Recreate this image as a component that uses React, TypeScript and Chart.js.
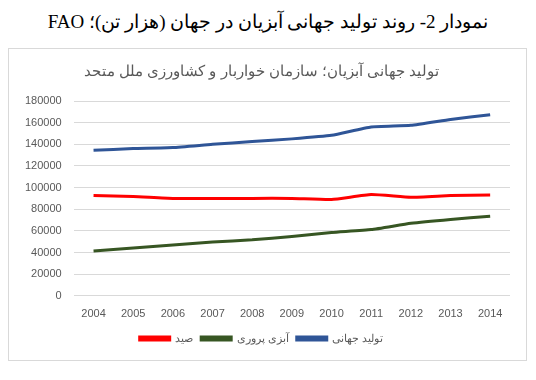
import React, { useEffect, useRef } from "react";
import { Chart, registerables } from "chart.js";

Chart.register(...registerables);

const years = ["2004", "2005", "2006", "2007", "2008", "2009", "2010", "2011", "2012", "2013", "2014"];
const catchValues = [92600, 91700, 90000, 90000, 90000, 90000, 89000, 93500, 91000, 92600, 93200];
const aquacultureValues = [41500, 44200, 47000, 49800, 51700, 54800, 58500, 61200, 67000, 70600, 73500];
const worldValues = [134500, 136000, 137000, 140000, 142500, 145000, 148300, 156000, 157500, 163000, 167400];
const seriesNames = ["صید", "آبزی پروری", "تولید جهانی"];
const seriesColors = ["#ff0000", "#375623", "#2f5597"];
const heading = "نمودار 2- روند تولید جهانی آبزیان در جهان (هزار تن)؛ FAO";
const chartTitle = "تولید جهانی آبزیان؛ سازمان خواربار و کشاورزی ملل متحد";

export default function App() {
  const ref = useRef<HTMLCanvasElement | null>(null);
  useEffect(() => {
    if (!ref.current) return;
    const values = [catchValues, aquacultureValues, worldValues];
    const chart = new Chart(ref.current, {
      type: "line",
      data: {
        labels: years,
        datasets: values.map((v, i) => ({
          label: seriesNames[i],
          data: v,
          borderColor: seriesColors[i],
          backgroundColor: seriesColors[i],
          borderWidth: 3,
          pointRadius: 0,
          tension: 0.15,
          fill: false,
        })),
      },
      options: {
        animation: false,
        responsive: false,
        layout: { padding: { left: 4, right: 16, top: 0, bottom: 6 } },
        plugins: {
          title: {
            display: true,
            text: chartTitle,
            color: "#595959",
            font: { family: "'Liberation Sans', Arial, sans-serif", size: 15, weight: "normal" },
            padding: { top: 14, bottom: 20 },
          },
          legend: {
            position: "bottom",
            labels: {
              boxWidth: 30,
              boxHeight: 3,
              color: "#595959",
              font: { family: "'Liberation Sans', Arial, sans-serif", size: 11 },
              padding: 8,
            },
          },
          tooltip: { enabled: false },
        },
        scales: {
          x: {
            offset: true,
            grid: { display: false },
            border: { display: false },
            ticks: {
              color: "#595959",
              font: { family: "'Liberation Sans', Arial, sans-serif", size: 11 },
              padding: 4,
              maxRotation: 0,
            },
          },
          y: {
            min: 0,
            max: 180000,
            border: { display: false },
            grid: { color: "#d9d9d9", drawTicks: false },
            ticks: {
              stepSize: 20000,
              color: "#595959",
              font: { family: "'Liberation Sans', Arial, sans-serif", size: 11 },
              padding: 12,
              callback: (v: any) => String(v),
            },
          },
        },
      },
    });
    return () => chart.destroy();
  }, []);
  return (
    <div>
      <div
        style={{
          direction: "rtl",
          textAlign: "center",
          fontFamily: "'Liberation Serif', 'Times New Roman', serif",
          fontSize: 19,
          lineHeight: "28px",
          height: 40,
          color: "#000",
        }}
      >
        {heading}
      </div>
      <div style={{ width: 517, height: 311, border: "1px solid #d9d9d9", marginTop: 0 }}>
        <canvas ref={ref} width={517} height={311} style={{ display: "block" }} />
      </div>
    </div>
  );
}
